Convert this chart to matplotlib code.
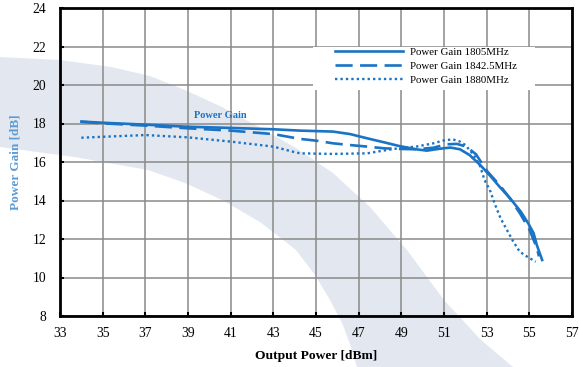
import numpy as np
import matplotlib
matplotlib.use("Agg")
import matplotlib.pyplot as plt
from matplotlib.patches import Polygon, Rectangle

plt.rcParams['font.family'] = ['Liberation Serif', 'DejaVu Serif']

# ---- data ----
x_1805 = [34.0, 35.0, 37.0, 39.0, 41.0, 43.0, 44.25, 45.8, 46.6, 47.4, 48.2, 48.9, 49.7, 50.2,
          50.8, 51.3, 51.75, 52.2, 52.7, 53.2, 53.6, 54.1, 54.6, 54.95, 55.2, 55.35, 55.6]
y_1805 = [18.10, 18.04, 17.94, 17.83, 17.77, 17.70, 17.63, 17.58, 17.45, 17.23, 17.02, 16.83, 16.66, 16.59,
          16.69, 16.75, 16.66, 16.36, 15.84, 15.24, 14.72, 14.11, 13.42, 12.81, 12.30, 11.69, 10.91]

x_1842 = [34.0, 35.0, 37.0, 39.0, 41.0, 43.0, 44.25, 45.0, 45.8, 46.6, 47.4, 48.2, 48.9, 49.7,
          50.5, 51.1, 51.6, 52.05, 52.5, 53.0, 53.6, 54.1, 54.55, 55.0, 55.35, 55.45]
y_1842 = [18.09, 18.01, 17.89, 17.75, 17.63, 17.45, 17.20, 17.11, 16.97, 16.88, 16.80, 16.71, 16.68, 16.66,
          16.74, 16.92, 16.94, 16.80, 16.40, 15.55, 14.81, 14.10, 13.35, 12.50, 11.55, 11.10]

x_1880 = [34.0, 35.0, 37.0, 39.0, 41.0, 43.0, 43.9, 44.25, 45.8, 47.4, 48.15, 48.9, 49.7, 50.5,
          50.95, 51.4, 51.75, 52.0, 52.4, 52.7, 52.9, 53.15, 53.4, 53.65, 53.95, 54.25, 54.55, 54.9, 55.3]
y_1880 = [17.26, 17.31, 17.40, 17.28, 17.06, 16.80, 16.54, 16.45, 16.42, 16.45, 16.59, 16.72, 16.80, 16.97,
          17.11, 17.18, 17.06, 16.88, 16.36, 15.76, 15.06, 14.55, 13.77, 13.08, 12.47, 11.86, 11.34, 11.08, 10.82]

labels = ["Power Gain 1805MHz", "Power Gain 1842.5MHz", "Power Gain 1880MHz"]
x_ticks = list(range(33, 58, 2))
y_ticks = list(range(8, 25, 2))

# ---- figure ----
W, H = 579, 367
fig = plt.figure(figsize=(W / 100, H / 100), dpi=100)
fig.patch.set_facecolor('white')

# background watermark band (decoration), in figure pixel coords
upper = [(0, 57), (60, 60), (111, 67), (150, 76), (185, 90), (222, 107), (259, 127), (296, 148),
         (333, 173), (370, 207), (407, 250), (444, 300), (481, 340), (513, 367)]
lower = [(0, 147), (74, 157), (148, 170), (185, 183), (222, 200), (260, 222), (296, 250),
         (315, 275), (330, 300), (343, 325), (352, 350), (357, 367)]
pts = upper + lower[::-1]
pts = [(px / W, 1 - py / H) for px, py in pts]
fig.patches.append(Polygon(pts, closed=True, transform=fig.transFigure,
                           facecolor='#e3e8f0', edgecolor='none', zorder=-5))

ax = fig.add_axes([60 / W, 1 - 316 / H, 512 / W, 308 / H])
ax.set_zorder(1)
ax.patch.set_alpha(0)

col = '#1a73c4'
ax.plot(x_1805, y_1805, color=col, lw=1.9, ls='-', label=labels[0], zorder=3)
ax.plot(x_1842, y_1842, color=col, lw=1.9, ls=(0, (6.5, 2.8)), label=labels[1], zorder=3)
ax.plot(x_1880, y_1880, color=col, lw=1.7, ls=(0, (1, 1.3)), label=labels[2], zorder=3)

ax.set_xlim(33, 57)
ax.set_ylim(8, 24)
ax.set_xticks(x_ticks)
ax.set_yticks(y_ticks)
ax.grid(True, color='#8a8a8a', lw=1.1)
ax.set_axisbelow(True)
for s in ax.spines.values():
    s.set_linewidth(2.0)
    s.set_color('black')
ax.tick_params(axis='both', direction='in', length=3, width=1.5, labelsize=9.8, colors='black')
ax.tick_params(axis='y', pad=10)
ax.tick_params(axis='x', pad=8)

# legend backdrop and legend
ax.add_patch(Rectangle((0.494, 0.734), 0.434, 0.139, transform=ax.transAxes,
                       facecolor='white', edgecolor='none', zorder=4))
leg = ax.legend(loc='upper left', bbox_to_anchor=(0.537, 0.872), frameon=False,
                fontsize=7.8, handlelength=6.3, handletextpad=0.65, labelspacing=0.42,
                borderpad=0, borderaxespad=0)
leg.set_zorder(5)

ax.text(40.5, 18.39, "Power Gain", color=col, fontsize=7.5, fontweight='bold',
        ha='center', va='center', zorder=4)

fig.text(16 / W, 1 - 162 / H, "Power Gain [dB]", rotation=90, ha='center', va='center',
         fontsize=9.5, fontweight='bold', color='#5b9bd5')
fig.text(316 / W, 1 - 356 / H, "Output Power [dBm]", ha='center', va='center',
         fontsize=9.7, fontweight='bold', color='black')

fig.savefig('out.png', dpi=100)
